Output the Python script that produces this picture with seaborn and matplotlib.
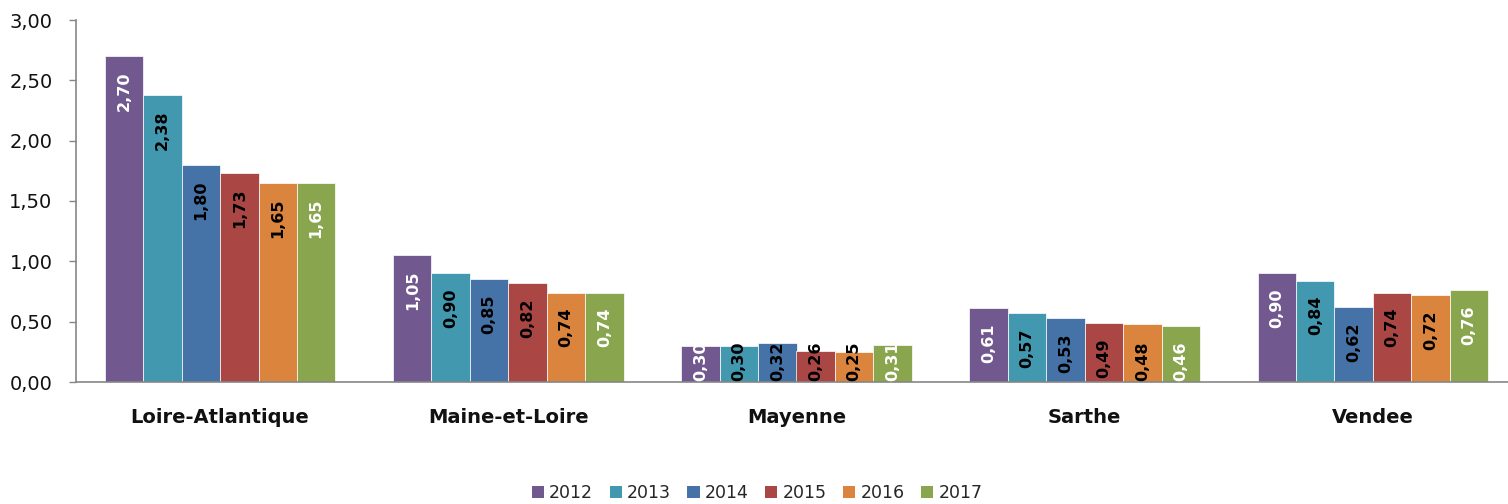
import matplotlib
matplotlib.use("Agg")
import matplotlib.pyplot as plt
from matplotlib.patches import Patch
import seaborn as sns
import pandas as pd

categories = ["Loire-Atlantique", "Maine-et-Loire", "Mayenne", "Sarthe", "Vendee"]
years = ["2012", "2013", "2014", "2015", "2016", "2017"]
v2012 = [2.70, 1.05, 0.30, 0.61, 0.90]
v2013 = [2.38, 0.90, 0.30, 0.57, 0.84]
v2014 = [1.80, 0.85, 0.32, 0.53, 0.62]
v2015 = [1.73, 0.82, 0.26, 0.49, 0.74]
v2016 = [1.65, 0.74, 0.25, 0.48, 0.72]
v2017 = [1.65, 0.74, 0.31, 0.46, 0.76]
series = [v2012, v2013, v2014, v2015, v2016, v2017]
colors = ["#71588F", "#4198AF", "#4572A7", "#AA4643", "#DB843D", "#89A54E"]
label_colors = ["white", "black", "black", "black", "black", "white"]
yticks = [0.0, 0.5, 1.0, 1.5, 2.0, 2.5, 3.0]

rows = []
for y, vals in zip(years, series):
    for c, v in zip(categories, vals):
        rows.append({"cat": c, "year": y, "val": v})
df = pd.DataFrame(rows)

sns.set_style("white")
plt.rcParams["font.family"] = ["DejaVu Sans"]

fig = plt.figure(figsize=(15.08, 5.04), dpi=100)
ax = fig.add_axes([76 / 1508, 1 - 382 / 504, (1517 - 76) / 1508, (382 - 20) / 504])

sns.barplot(data=df, x="cat", y="val", hue="year", order=categories,
            hue_order=years, palette=colors, width=0.8, ax=ax,
            edgecolor="white", linewidth=0.5, legend=False, saturation=1)

ax.set_xlim(-0.5, 4.5)
ax.set_ylim(0, 3.0)
ax.set_yticks(yticks)
ax.set_yticklabels([f"{t:.2f}".replace(".", ",") for t in yticks], fontsize=14, color="#111111")
ax.set_xticks(range(len(categories)))
ax.set_xticklabels(categories, fontsize=14, fontweight="bold", color="#111111")
ax.set_xticks([i - 0.5 for i in range(len(categories) + 1)], minor=True)
ax.tick_params(axis="x", which="major", length=0, pad=19)
ax.tick_params(axis="x", which="minor", length=6, color="#868686", width=1, direction="out")
ax.tick_params(axis="y", length=5, color="#868686", width=1, direction="out", pad=12, left=True)
ax.set_xlabel("")
ax.set_ylabel("")
for s in ["top", "right"]:
    ax.spines[s].set_visible(False)
for s in ["left", "bottom"]:
    ax.spines[s].set_color("#868686")
    ax.spines[s].set_linewidth(1.2)

# data labels
px_per_unit = (382 - 20) / 3.0
text_len_px = 38
for cont, vals, lc in zip(ax.containers, series, label_colors):
    for bar, v in zip(cont, vals):
        xc = bar.get_x() + bar.get_width() / 2
        h = bar.get_height()
        lab = f"{v:.2f}".replace(".", ",")
        if h * px_per_unit >= text_len_px + 20:
            ax.annotate(lab, xy=(xc, h), xytext=(0, -11), textcoords="offset points",
                        rotation=90, ha="center", va="top", fontsize=11.5,
                        fontweight="bold", color=lc)
        else:
            ax.annotate(lab, xy=(xc, 0), xytext=(0, 1), textcoords="offset points",
                        rotation=90, ha="center", va="bottom", fontsize=11.5,
                        fontweight="bold", color=lc)

handles = [Patch(facecolor=c, edgecolor="none") for c in colors]
fig.legend(handles, years, loc="center", bbox_to_anchor=(0.502, 1 - 493 / 504),
           ncol=6, frameon=False, fontsize=12.5, handlelength=0.7, handleheight=0.7,
           handletextpad=0.3, columnspacing=0.95)

fig.savefig("out.png", dpi=100)
